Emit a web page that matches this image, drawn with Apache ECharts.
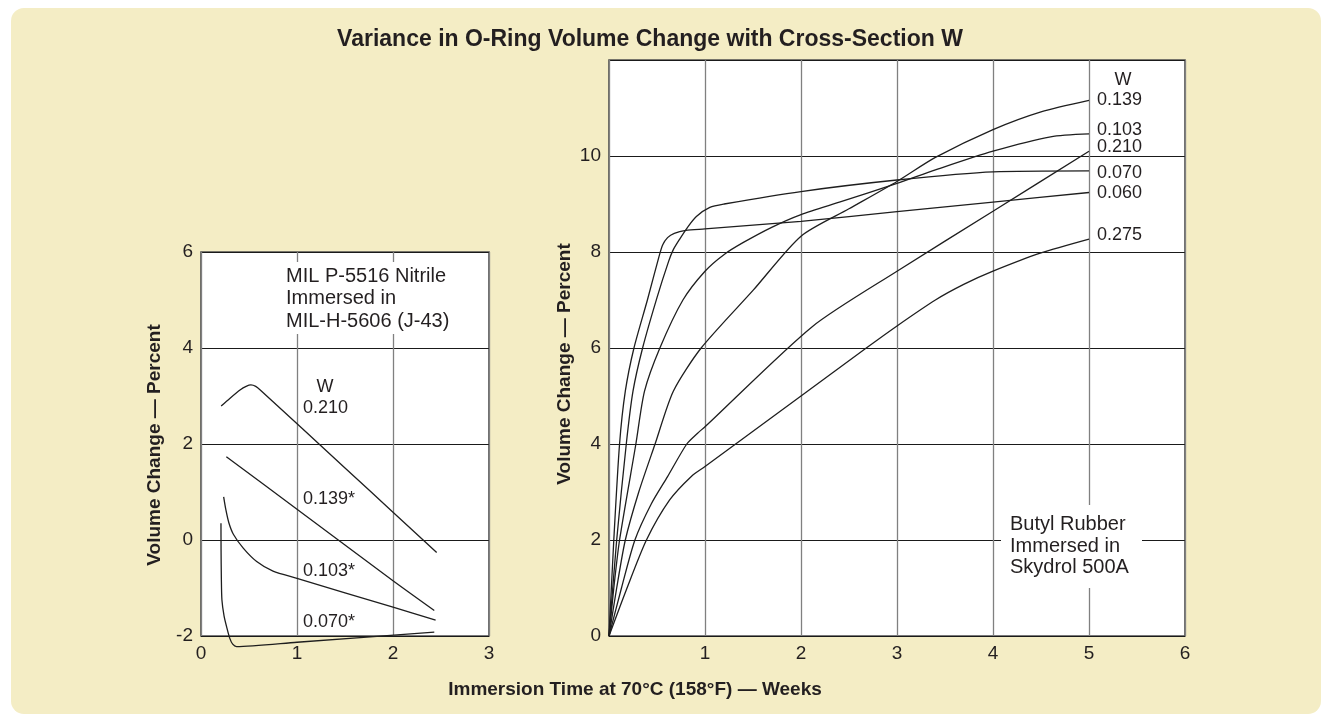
<!DOCTYPE html>
<html>
<head>
<meta charset="utf-8">
<script src="https://cdn.jsdelivr.net/npm/echarts@6/dist/echarts.min.js"></script>
<style>
  html, body { margin:0; padding:0; background:#ffffff; }
  #panel { position:absolute; left:11px; top:8px; width:1310px; height:706px; background:#f4edc5; border-radius:13px; }
  #chart { position:absolute; left:0; top:0; width:1321px; height:715px; }
</style>
</head>
<body>
<div id="panel"></div>
<div id="chart"></div>
<script>
// ---- Left chart: MIL P-5516 Nitrile in MIL-H-5606 (x: weeks, y: % volume change)
const leftNames = ['0.210', '0.139*', '0.103*', '0.070*'];
const nitrile210 = [[0.21,2.79],[0.3,2.95],[0.41,3.13],[0.47,3.2],[0.52,3.23],[0.57,3.2],[0.62,3.12],[1.5,1.5],[2.0,0.58],[2.455,-0.26]];
const nitrile139 = [[0.264,1.736],[1.0,0.64],[2.0,-0.85],[2.43,-1.47]];
const nitrile103 = [[0.236,0.9],[0.26,0.62],[0.29,0.36],[0.337,0.12],[0.44,-0.17],[0.58,-0.45],[0.75,-0.65],[1.0,-0.8],[2.0,-1.4],[2.444,-1.67]];
const nitrile070 = [[0.208,0.35],[0.209,-0.2],[0.212,-0.8],[0.218,-1.25],[0.24,-1.58],[0.267,-1.81],[0.3,-2.05],[0.33,-2.17],[0.37,-2.22],[1.0,-2.13],[2.43,-1.92]];

// ---- Right chart: Butyl Rubber in Skydrol 500A
const rightNames = ['0.139', '0.103', '0.210', '0.070', '0.060', '0.275'];
const butyl139 = [[0,0],[0.08,1.0],[0.17,2.0],[0.31,3.0],[0.48,4.0],[0.67,5.1],[0.96,6.0],[1.5,7.2],[2.0,8.33],[2.5,8.9],[3.0,9.47],[3.4,9.97],[4.0,10.55],[4.5,10.92],[5.0,11.16]];
const butyl103 = [[0,0],[0.05,1.0],[0.11,2.0],[0.28,4.0],[0.37,5.1],[0.53,6.0],[0.77,7.0],[1.0,7.6],[1.2,7.95],[1.4,8.2],[1.7,8.52],[2.0,8.78],[2.4,9.04],[3.0,9.43],[3.4,9.71],[4.0,10.1],[4.6,10.4],[5.0,10.46]];
const butyl210 = [[0,0],[0.13,1.0],[0.27,2.0],[0.44,2.75],[0.61,3.32],[0.81,4.0],[0.92,4.22],[1.0,4.36],[2.12,6.45],[3.0,7.6],[4.0,8.85],[5.0,10.1]];
const butyl070 = [[0,0],[0.08,2.0],[0.18,4.0],[0.25,5.1],[0.35,6.0],[0.5,7.05],[0.62,7.8],[0.67,8.05],[0.74,8.28],[0.82,8.52],[0.91,8.74],[1.05,8.93],[1.2,9.0],[2.0,9.26],[3.0,9.5],[4.0,9.67],[5.0,9.69]];
const butyl060 = [[0,0],[0.05,2.0],[0.11,4.0],[0.17,5.1],[0.26,6.0],[0.4,7.0],[0.52,7.9],[0.56,8.15],[0.61,8.3],[0.68,8.39],[0.8,8.45],[1.0,8.48],[2.0,8.64],[3.0,8.84],[4.0,9.04],[5.0,9.24]];
const butyl275 = [[0,0],[0.18,0.96],[0.39,2.0],[0.63,2.83],[0.86,3.33],[1.0,3.53],[2.0,5.0],[2.68,6.0],[3.0,6.46],[3.4,7.0],[3.7,7.33],[4.0,7.6],[4.5,7.98],[5.0,8.27]];

const leftXTicks = [0, 1, 2, 3];
const leftYTicks = [-2, 0, 2, 4, 6];
const rightXTicks = [1, 2, 3, 4, 5, 6];
const rightYTicks = [0, 2, 4, 6, 8, 10];

const FONT = '"Liberation Sans", Arial, Helvetica, sans-serif';
const INK = '#231f20';
const LINE = '#1e1e1e';

const chart = echarts.init(document.getElementById('chart'), null, {renderer: 'canvas'});

function xAxisCfg(gi, min, max, ticks) {
  return {
    gridIndex: gi, type: 'value', min: min, max: max, interval: 1,
    axisLine: {show: false}, axisTick: {show: false},
    splitLine: {show: true, lineStyle: {color: '#808080', width: 1.3}},
    axisLabel: {fontSize: 19, color: INK, fontFamily: FONT, margin: 8,
      formatter: v => ticks.indexOf(v) >= 0 ? String(v) : ''}
  };
}
function yAxisCfg(gi, min, max, ticks) {
  return {
    gridIndex: gi, type: 'value', min: min, max: max, interval: 2,
    axisLine: {show: false}, axisTick: {show: false},
    splitLine: {show: true, lineStyle: {color: '#1a1a1a', width: 1}},
    axisLabel: {fontSize: 19, color: INK, fontFamily: FONT, margin: 8,
      formatter: v => ticks.indexOf(v) >= 0 ? String(v) : ''}
  };
}

const lineBase = {type: 'line', symbol: 'none', smooth: 0.25, animation: false,
  lineStyle: {color: LINE, width: 1.3}, emphasis: {disabled: true}};

function leftSeries(name, data) {
  return Object.assign({}, lineBase, {name: name, xAxisIndex: 0, yAxisIndex: 0, data: data, clip: false});
}
const endOffsets = {'0.139': 0, '0.103': -4, '0.210': -4, '0.070': 2, '0.060': 1, '0.275': -4};
function rightSeries(name, data) {
  return Object.assign({}, lineBase, {name: name, xAxisIndex: 1, yAxisIndex: 1, data: data, clip: false,
    endLabel: {show: true, formatter: () => name, distance: 8, offset: [0, endOffsets[name]],
      fontSize: 18, color: INK, fontFamily: FONT}});
}

const option = {
  animation: false,
  textStyle: {fontFamily: FONT},
  grid: [
    {left: 201, top: 252, width: 288, height: 384, show: true, backgroundColor: '#ffffff', borderColor: '#4d4d4d', borderWidth: 1.6},
    {left: 609, top: 60, width: 576, height: 576, show: true, backgroundColor: '#ffffff', borderColor: '#4d4d4d', borderWidth: 1.6}
  ],
  xAxis: [xAxisCfg(0, 0, 3, leftXTicks), xAxisCfg(1, 0, 6, rightXTicks)],
  yAxis: [yAxisCfg(0, -2, 6, leftYTicks), yAxisCfg(1, 0, 12, rightYTicks)],
  series: [
    leftSeries(leftNames[0], nitrile210),
    leftSeries(leftNames[1], nitrile139),
    leftSeries(leftNames[2], nitrile103),
    leftSeries(leftNames[3], nitrile070),
    rightSeries(rightNames[0], butyl139),
    rightSeries(rightNames[1], butyl103),
    rightSeries(rightNames[2], butyl210),
    rightSeries(rightNames[3], butyl070),
    rightSeries(rightNames[4], butyl060),
    rightSeries(rightNames[5], butyl275)
  ],
  graphic: [
    {type: 'text', x: 650, y: 40, z: 60, style: {text: 'Variance in O-Ring Volume Change with Cross-Section W',
      font: 'bold 23px ' + FONT, fill: INK, align: 'center', verticalAlign: 'middle'}},
    {type: 'text', x: 635, y: 690, z: 60, style: {text: 'Immersion Time at 70°C (158°F) — Weeks',
      font: 'bold 19px ' + FONT, fill: INK, align: 'center', verticalAlign: 'middle'}},
    {type: 'text', x: 155, y: 445, rotation: Math.PI / 2, z: 60, style: {text: 'Volume Change — Percent',
      font: 'bold 19px ' + FONT, fill: INK, align: 'center', verticalAlign: 'middle'}},
    {type: 'text', x: 565, y: 364, rotation: Math.PI / 2, z: 60, style: {text: 'Volume Change — Percent',
      font: 'bold 19px ' + FONT, fill: INK, align: 'center', verticalAlign: 'middle'}},
    // left annotation block
    {type: 'rect', z: 55, shape: {x: 280, y: 262, width: 178, height: 72}, style: {fill: '#ffffff'}},
    {type: 'text', x: 286, y: 298.5, z: 60, style: {text: 'MIL P-5516 Nitrile\nImmersed in\nMIL-H-5606 (J-43)',
      font: '20px ' + FONT, lineHeight: 22.5, fill: INK, align: 'left', verticalAlign: 'middle'}},
    // left series labels
    {type: 'text', x: 325, y: 387, z: 60, style: {text: 'W', font: '18px ' + FONT, fill: INK, align: 'center', verticalAlign: 'middle'}},
    {type: 'text', x: 303, y: 408, z: 60, style: {text: leftNames[0], font: '18px ' + FONT, fill: INK, align: 'left', verticalAlign: 'middle'}},
    {type: 'text', x: 303, y: 499, z: 60, style: {text: leftNames[1], font: '18px ' + FONT, fill: INK, align: 'left', verticalAlign: 'middle'}},
    {type: 'text', x: 303, y: 571, z: 60, style: {text: leftNames[2], font: '18px ' + FONT, fill: INK, align: 'left', verticalAlign: 'middle'}},
    {type: 'text', x: 303, y: 622, z: 60, style: {text: leftNames[3], font: '18px ' + FONT, fill: INK, align: 'left', verticalAlign: 'middle'}},
    // right header
    {type: 'text', x: 1123, y: 80, z: 60, style: {text: 'W', font: '18px ' + FONT, fill: INK, align: 'center', verticalAlign: 'middle'}},
    // right annotation block
    {type: 'rect', z: 55, shape: {x: 1001, y: 505, width: 141, height: 83}, style: {fill: '#ffffff'}},
    {type: 'text', x: 1010, y: 546, z: 60, style: {text: 'Butyl Rubber\nImmersed in\nSkydrol 500A',
      font: '20px ' + FONT, lineHeight: 21.5, fill: INK, align: 'left', verticalAlign: 'middle'}}
  ]
};
chart.setOption(option);
</script>
</body>
</html>
